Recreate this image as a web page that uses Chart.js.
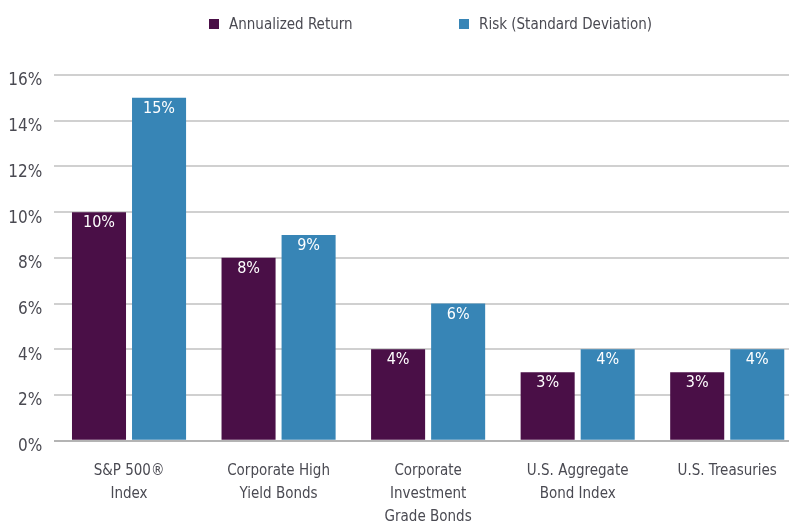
<!DOCTYPE html>
<html>
<head>
<meta charset="utf-8">
<script src="https://cdn.jsdelivr.net/npm/chart.js@4.4.1/dist/chart.umd.min.js"></script>
<style>
  html, body { margin: 0; padding: 0; background: #fff; overflow: hidden; }
  #wrap { position: relative; width: 802px; height: 523px; }
  #chart { position: absolute; left: 0; top: 0; }
  #legend {
    position: absolute; left: 0; top: 12px; width: 802px; height: 24px;
    font-family: 'DejaVu Sans Condensed', 'Liberation Sans Narrow', sans-serif;
    font-size: 15px; color: #4a4a52;
  }
  .item { position: absolute; top: 0; display: flex; align-items: center; height: 24px; white-space: nowrap; }
  .box { width: 10px; height: 10px; margin-right: 10px; }
</style>
</head>
<body>
<div id="wrap">
  <canvas id="chart" width="802" height="523"></canvas>
  <div id="legend"></div>
</div>
<script>
// Datos del gráfico
const categorias = [
    ['S&P 500®', 'Index'],
    ['Corporate High', 'Yield Bonds'],
    ['Corporate', 'Investment', 'Grade Bonds'],
    ['U.S. Aggregate', 'Bond Index'],
    'U.S. Treasuries'
];
const rentabilidad = [10, 8, 4, 3, 3];   // Annualized Return
const riesgo = [15, 9, 6, 4, 4];         // Risk (Standard Deviation)

const FONT = "'DejaVu Sans Condensed', 'Liberation Sans Narrow', sans-serif";
const GRIS = '#4a4a52';

// Etiquetas blancas dentro de cada barra
const valoresPlugin = {
    id: 'valores',
    afterDatasetsDraw(chart) {
        const ctx = chart.ctx;
        ctx.save();
        ctx.fillStyle = '#ffffff';
        ctx.font = '16px ' + FONT;
        ctx.textAlign = 'center';
        ctx.textBaseline = 'middle';
        chart.data.datasets.forEach((ds, i) => {
            chart.getDatasetMeta(i).data.forEach((bar, j) => {
                ctx.fillText(ds.data[j] + '%', bar.x, bar.y + 11);
            });
        });
        ctx.restore();
    }
};

const chart = new Chart(document.getElementById('chart'), {
    type: 'bar',
    data: {
        labels: categorias,
        datasets: [
            { label: 'Annualized Return', data: rentabilidad, backgroundColor: '#4a0f47' },
            { label: 'Risk (Standard Deviation)', data: riesgo, backgroundColor: '#3785b6' }
        ]
    },
    options: {
        responsive: false,
        animation: false,
        categoryPercentage: 0.803,
        barPercentage: 0.9,
        layout: { padding: { top: 75, left: 0, right: 0, bottom: 0 } },
        plugins: {
            legend: { display: false },
            tooltip: { enabled: false }
        },
        scales: {
            x: {
                grid: { display: false, drawTicks: false },
                border: { display: false },
                ticks: { color: GRIS, font: { family: FONT, size: 15, lineHeight: 1.53 }, padding: 19, maxRotation: 0, autoSkip: false },
                afterFit(scale) { scale.height = 82.3; }
            },
            y: {
                min: 0,
                max: 16,
                ticks: {
                    stepSize: 2,
                    color: GRIS,
                    font: { family: FONT, size: 17 },
                    padding: 12,
                    labelOffset: 6,
                    callback: v => v + '%'
                },
                grid: {
                    drawTicks: false,
                    lineWidth: 2,
                    color: c => c.index === 0 ? '#b4b4b4' : '#d0d0d0'
                },
                border: { display: false },
                afterFit(scale) { scale.width = 54.25; }
            }
        }
    },
    plugins: [valoresPlugin]
});

// Leyenda en HTML a partir de los datasets
const leyenda = document.getElementById('legend');
const posLeyenda = [209, 459];
chart.data.datasets.forEach((ds, i) => {
    const item = document.createElement('div');
    item.className = 'item';
    item.style.left = posLeyenda[i] + 'px';
    item.innerHTML = `<span class="box" style="background:${ds.backgroundColor}"></span><span>${ds.label}</span>`;
    leyenda.appendChild(item);
});
</script>
</body>
</html>
